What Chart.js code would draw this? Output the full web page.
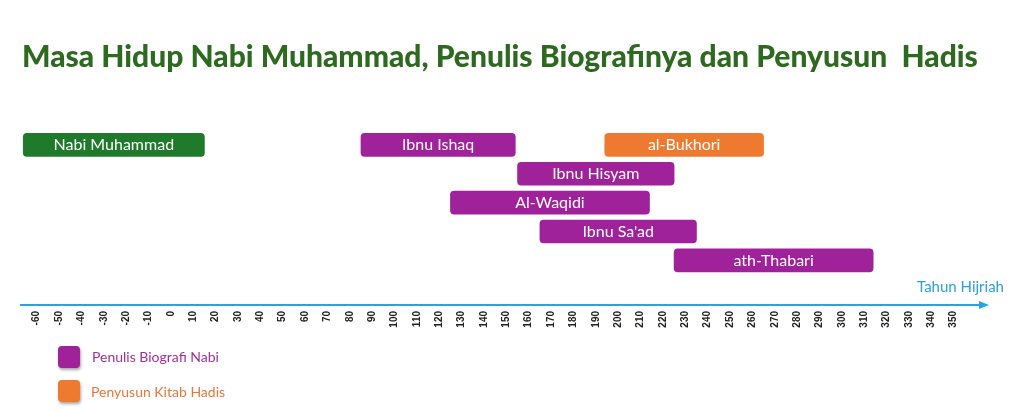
<!DOCTYPE html>
<html>
<head>
<meta charset="utf-8">
<script src="https://cdn.jsdelivr.net/npm/chart.js@4"></script>
<style>
  body { margin: 0; background: #fff; font-family: Lato, "Open Sans", sans-serif; }
  #wrap { position: relative; width: 1024px; height: 409px; }
  #c { position: absolute; left: 0; top: 0; }
  .txt { position: absolute; white-space: nowrap; }
  .sq { position: absolute; width: 22px; height: 22px; border-radius: 4px; box-shadow: 1px 2px 3px rgba(0,0,0,0.35); }
</style>
</head>
<body>
<div id="wrap">
  <canvas id="c" width="1024" height="409"></canvas>
  <div class="txt" style="left:22px;top:37px;font-size:30px;font-weight:900;color:#2d6a1f;">Masa Hidup Nabi Muhammad, Penulis Biografinya dan Penyusun&nbsp; Hadis</div>
  <div class="txt" style="left:917px;top:277px;font-size:15px;color:#2ba0dc;">Tahun Hijriah</div>
  <div class="sq" style="left:58px;top:346px;background:#a0229a;"></div>
  <div class="txt" style="left:92px;top:348px;font-size:14px;color:#a0309a;">Penulis Biografi Nabi</div>
  <div class="sq" style="left:58px;top:380px;background:#ee7a30;"></div>
  <div class="txt" style="left:91px;top:383px;font-size:14px;color:#e8773a;">Penyusun Kitab Hadis</div>
</div>
<script>
const names = ['Nabi Muhammad', 'Ibnu Ishaq', 'al-Bukhori', 'Ibnu Hisyam', 'Al-Waqidi', 'Ibnu Sa\'ad', 'ath-Thabari'];
const starts = [-66, 85, 194, 155, 125, 165, 225];
const ends = [15, 154, 265, 225, 214, 235, 314];
const rows = [0, 0, 0, 1, 2, 3, 4];
const groups = ['nabi', 'bio', 'hadis', 'bio', 'bio', 'bio', 'bio'];
const tickYears = [];
for (let y = -60; y <= 350; y += 10) tickYears.push(y);

const groupColors = { nabi: '#1f7a2c', bio: '#a0229a', hadis: '#ee7a30' };

const barLabels = {
  id: 'barLabels',
  afterDatasetsDraw(chart) {
    const ctx = chart.ctx;
    const meta = chart.getDatasetMeta(0);
    ctx.save();
    ctx.fillStyle = '#fff';
    ctx.font = '16px Lato, "Open Sans", sans-serif';
    ctx.textAlign = 'center';
    ctx.textBaseline = 'middle';
    meta.data.forEach((bar, i) => {
      const cx = (bar.x + bar.base) / 2;
      ctx.fillText(names[i], cx, bar.y);
    });
    ctx.restore();
  }
};

const arrow = {
  id: 'arrow',
  afterDraw(chart) {
    const s = chart.scales.x;
    const ctx = chart.ctx;
    const y = s.top;
    ctx.save();
    ctx.fillStyle = '#29a3dd';
    ctx.beginPath();
    ctx.moveTo(s.right + 4, y);
    ctx.lineTo(s.right - 6, y - 4);
    ctx.lineTo(s.right - 6, y + 4);
    ctx.closePath();
    ctx.fill();
    ctx.restore();
  }
};

new Chart(document.getElementById('c'), {
  type: 'bar',
  data: {
    datasets: [{
      data: names.map((n, i) => ({ x: [starts[i], ends[i]], y: rows[i] })),
      backgroundColor: groups.map(g => groupColors[g]),
      borderRadius: 4,
      borderSkipped: false,
      barThickness: 23
    }]
  },
  options: {
    indexAxis: 'y',
    responsive: false,
    animation: false,
    layout: { padding: { left: 21, right: 39, top: 117, bottom: 0 } },
    plugins: { legend: { display: false }, tooltip: { enabled: false } },
    scales: {
      x: {
        type: 'linear',
        min: -67,
        max: 364,
        afterBuildTicks(scale) { scale.ticks = tickYears.map(v => ({ value: v })); },
        afterFit(scale) { scale.height = 104; },
        grid: { display: false, drawTicks: false },
        border: { color: '#29a3dd', width: 2 },
        ticks: {
          minRotation: 90,
          maxRotation: 90,
          padding: 6,
          color: '#222',
          font: { size: 10, weight: 'bold', family: 'Arial, "Liberation Sans", sans-serif' }
        }
      },
      y: {
        type: 'linear',
        reverse: true,
        min: -0.5,
        max: 5.08,
        display: false
      }
    }
  },
  plugins: [barLabels, arrow]
});
</script>
</body>
</html>
